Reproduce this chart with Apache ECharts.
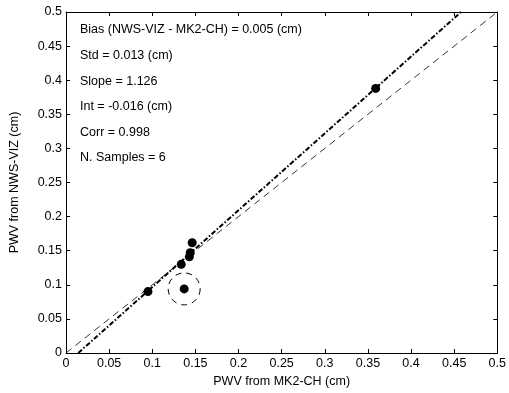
<!DOCTYPE html>
<html>
<head>
<meta charset="utf-8">
<script src="https://cdn.jsdelivr.net/npm/echarts@6/dist/echarts.min.js"></script>
<style>html,body{margin:0;padding:0;background:#fff;}#c{width:509px;height:393px;}</style>
</head>
<body>
<div id="c"></div>
<script>
var samplesX = [0.095, 0.1336, 0.143, 0.144, 0.1463, 0.359];
var samplesY = [0.090, 0.130, 0.141, 0.147, 0.1617, 0.388];
var outlierX = [0.137];
var outlierY = [0.094];
var oneToOneX = [0, 0.5];
var oneToOneY = [0, 0.5];
var fitX = [0.0142, 0.458];
var fitY = [0, 0.5];
var statLines = [
  'Bias (NWS-VIZ - MK2-CH) = 0.005 (cm)',
  'Std = 0.013 (cm)',
  'Slope = 1.126',
  'Int = -0.016 (cm)',
  'Corr = 0.998',
  'N. Samples = 6'
];
var xName = 'PWV from MK2-CH (cm)';
var yName = 'PWV from NWS-VIZ (cm)';

function pairs(xs, ys) { return xs.map(function (x, i) { return [x, ys[i]]; }); }

var font = 'Liberation Sans, Arial, sans-serif';
var chart = echarts.init(document.getElementById('c'), null, {renderer: 'canvas'});

var axisCommon = {
  type: 'value', min: 0, max: 0.5, interval: 0.05,
  axisLine: {show: true, onZero: false, lineStyle: {color: '#000', width: 1}},
  axisTick: {show: true, inside: true, length: 4, lineStyle: {color: '#000'}},
  splitLine: {show: false}
};

var graphics = statLines.map(function (t, i) {
  return {
    type: 'text', x: 80, y: 30 + i * 25.6,
    style: {text: t, font: '12.5px ' + font, fill: '#000', verticalAlign: 'middle'}
  };
});

chart.setOption({
  animation: false,
  backgroundColor: '#fff',
  grid: {left: 65, right: 11, top: 12, bottom: 40},
  xAxis: [
    Object.assign({}, axisCommon, {
      position: 'bottom', name: xName, nameLocation: 'middle', nameGap: 22,
      nameTextStyle: {fontSize: 12.5, fontFamily: font, color: '#000'},
      axisLabel: {fontSize: 12.5, fontFamily: font, color: '#000', margin: 4}
    }),
    Object.assign({}, axisCommon, {position: 'top', axisLabel: {show: false}})
  ],
  yAxis: [
    Object.assign({}, axisCommon, {
      position: 'left', name: yName, nameLocation: 'middle', nameGap: 45,
      nameTextStyle: {fontSize: 12.5, fontFamily: font, color: '#000'},
      axisLabel: {fontSize: 12.5, fontFamily: font, color: '#000', margin: 4}
    }),
    Object.assign({}, axisCommon, {position: 'right', axisLabel: {show: false}})
  ],
  graphic: graphics,
  series: [
    {
      type: 'line', data: pairs(oneToOneX, oneToOneY), symbol: 'none',
      lineStyle: {color: '#000', width: 0.8, type: [7, 5]}, z: 2
    },
    {
      type: 'line', data: pairs(fitX, fitY), symbol: 'none',
      lineStyle: {color: '#000', width: 2, type: [5, 2, 1.5, 2]}, z: 3
    },
    {
      type: 'scatter', data: pairs(samplesX, samplesY), symbol: 'circle', symbolSize: 9,
      itemStyle: {color: '#000', opacity: 1}, z: 5
    },
    {
      type: 'scatter', data: pairs(outlierX, outlierY), symbol: 'circle', symbolSize: 9,
      itemStyle: {color: '#000', opacity: 1}, z: 5
    },
    {
      type: 'scatter', data: pairs(outlierX, outlierY), symbol: 'circle', symbolSize: 32,
      itemStyle: {color: 'rgba(0,0,0,0)', borderColor: '#000', borderWidth: 1, borderType: [6, 5], opacity: 1}, z: 4
    }
  ]
});
</script>
</body>
</html>
